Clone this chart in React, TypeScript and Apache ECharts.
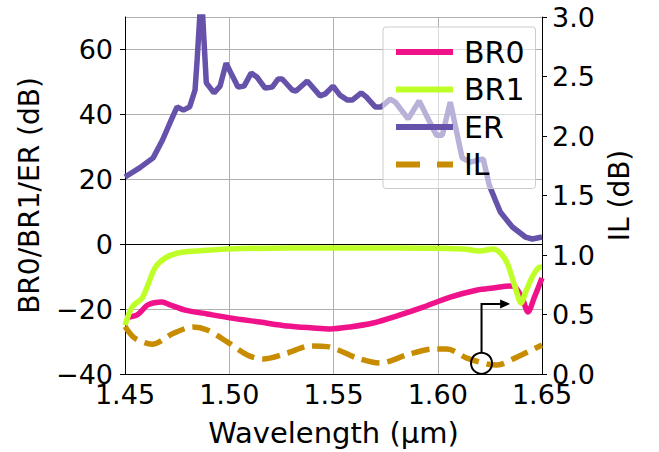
import React, { useEffect, useRef } from "react";
import * as echarts from "echarts";

// ---- data ----
const seriesNames = ["BR0", "BR1", "ER", "IL"];

const br0Wl = [1.45, 1.4558, 1.461, 1.4678, 1.4716, 1.4788, 1.4894, 1.5004, 1.5148, 1.5278, 1.5402, 1.5484, 1.558, 1.569, 1.5805, 1.593, 1.606, 1.619, 1.6265, 1.6347, 1.637, 1.6405, 1.6433, 1.6462, 1.65];
const br0Val = [-22.6, -21.8, -18.7, -17.8, -18.7, -20.3, -21.5, -22.7, -24.0, -25.2, -25.8, -26.1, -25.5, -24.3, -22.1, -19.4, -16.3, -14.1, -13.5, -12.9, -13.2, -16.6, -20.9, -16.6, -10.4];

const br1Wl = [1.45, 1.4534, 1.4582, 1.4606, 1.4644, 1.4692, 1.4754, 1.4846, 1.4994, 1.5277, 1.553, 1.5805, 1.612, 1.6203, 1.6265, 1.63, 1.6333, 1.6371, 1.64, 1.642, 1.6453, 1.6482, 1.65];
const br1Val = [-25, -19.4, -16.6, -13.2, -7.3, -4.3, -2.7, -2.1, -1.5, -1.2, -1.2, -1.2, -1.5, -2.1, -1.5, -2.7, -5.8, -13.2, -18.1, -15.0, -10.1, -7.3, -7.0];

const erWl = [1.45, 1.457, 1.4635, 1.468, 1.4726, 1.475, 1.478, 1.481, 1.4836, 1.4846, 1.4866, 1.489, 1.4927, 1.4956, 1.4985, 1.5013, 1.5042, 1.5071, 1.5105, 1.5133, 1.5172, 1.5206, 1.5234, 1.5254, 1.5302, 1.532, 1.5374, 1.5436, 1.546, 1.5498, 1.553, 1.5566, 1.559, 1.5633, 1.5657, 1.57, 1.5729, 1.5772, 1.5796, 1.5858, 1.5911, 1.5993, 1.6022, 1.606, 1.6117, 1.6156, 1.6218, 1.6247, 1.6276, 1.63, 1.6358, 1.642, 1.6454, 1.65];
const erVal = [20.7, 23.5, 26.6, 32.1, 38.9, 42.3, 41.3, 42.3, 47.5, 56.8, 78, 49.7, 46.6, 48.7, 55.8, 52.1, 48.4, 48.7, 52.7, 51.5, 48.1, 48.4, 50.9, 50.9, 47.5, 47.2, 50.3, 45.7, 46.3, 48.7, 46.0, 44.4, 44.4, 46.6, 45.4, 42.3, 42.3, 44.7, 43.8, 38.6, 44.1, 33.6, 33.6, 43.8, 26.6, 25.3, 26.3, 18.2, 13.6, 9.9, 5.3, 2.2, 1.6, 2.2];

const ilWl = [1.45, 1.4548, 1.463, 1.473, 1.4826, 1.4894, 1.499, 1.5086, 1.5162, 1.5278, 1.5388, 1.547, 1.5613, 1.5724, 1.5852, 1.5978, 1.6044, 1.614, 1.6237, 1.6285, 1.6381, 1.65];
const ilVal = [0.40, 0.30, 0.25, 0.34, 0.395, 0.37, 0.27, 0.16, 0.126, 0.176, 0.235, 0.23, 0.134, 0.092, 0.16, 0.21, 0.21, 0.134, 0.084, 0.076, 0.143, 0.244];

// annotation anchor (data coordinates)
const markWl = 1.621;
const markIL = 0.09;
const arrowLevel = -18.4;
const arrowEndWl = 1.6347;

const colors = ["#f0128a", "#beff28", "#6652aa", "#c88c00"];
const FONT = "DejaVu Sans";

const pairs = (xs: number[], ys: number[]) => xs.map((x, i) => [x, ys[i]]);

export default function App() {
  const ref = useRef<HTMLDivElement>(null);
  useEffect(() => {
    const chart = echarts.init(ref.current!, null, { renderer: "svg" });
    const option: any = {
      animation: false,
      textStyle: { fontFamily: FONT, color: "#000" },
      grid: { left: 125, right: 117, top: 17, bottom: 78 },
      legend: {
        data: [
          { name: seriesNames[0] },
          { name: seriesNames[1] },
          { name: seriesNames[2] },
          { name: seriesNames[3], lineStyle: { type: [24, 17] } },
        ],
        orient: "vertical",
        left: 383,
        top: 27,
        padding: [10, 11, 9, 10],
        itemWidth: 57,
        itemHeight: 14,
        itemGap: 7.5,
        selectedMode: false,
        backgroundColor: "rgba(255,255,255,0.55)",
        borderColor: "#cccccc",
        borderWidth: 1,
        borderRadius: 3,
        itemStyle: { opacity: 0, color: "rgba(0,0,0,0)", borderWidth: 0 },
        lineStyle: { width: 6 },
        textStyle: { fontFamily: FONT, fontSize: 30, color: "#000", lineHeight: 30, padding: [0, 0, 0, 6] },
      },
      xAxis: [
        {
          type: "value",
          min: 1.45,
          max: 1.65,
          interval: 0.05,
          name: "Wavelength (µm)",
          nameLocation: "middle",
          nameGap: 44,
          nameTextStyle: { fontFamily: FONT, fontSize: 29, color: "#000" },
          axisLine: { lineStyle: { color: "#000", width: 1 } },
          axisTick: { show: true, inside: false, length: 5, lineStyle: { color: "#000" } },
          axisLabel: { fontFamily: FONT, fontSize: 27, color: "#000", margin: 7, formatter: (v: number) => v.toFixed(2) },
          splitLine: { show: true, lineStyle: { color: "#b0b0b0", width: 1 } },
        },
        {
          type: "value",
          position: "top",
          min: 1.45,
          max: 1.65,
          axisLine: { show: true, lineStyle: { color: "#000", width: 1 } },
          axisTick: { show: false },
          axisLabel: { show: false },
          splitLine: { show: false },
        },
      ],
      yAxis: [
        {
          type: "value",
          min: -40,
          max: 70,
          interval: 20,
          name: "BR0/BR1/ER (dB)",
          nameLocation: "middle",
          nameRotate: 90,
          nameGap: 82,
          nameTextStyle: { fontFamily: FONT, fontSize: 28, color: "#000" },
          axisLine: { show: true, lineStyle: { color: "#000", width: 1 } },
          axisTick: { show: true, length: 5, lineStyle: { color: "#000" } },
          axisLabel: {
            fontFamily: FONT,
            fontSize: 27,
            color: "#000",
            margin: 12,
            showMaxLabel: false,
            formatter: (v: number) => (v < 0 ? "\u2212" + Math.abs(v) : String(v)),
          },
          splitLine: { show: true, lineStyle: { color: "#b0b0b0", width: 1 } },
        },
        {
          type: "value",
          position: "right",
          min: 0,
          max: 3,
          interval: 0.5,
          name: "IL (dB)",
          nameLocation: "middle",
          nameRotate: 90,
          nameGap: 61,
          nameTextStyle: { fontFamily: FONT, fontSize: 28, color: "#000" },
          axisLine: { show: true, lineStyle: { color: "#000", width: 1 } },
          axisTick: { show: true, length: 5, lineStyle: { color: "#000" } },
          axisLabel: { fontFamily: FONT, fontSize: 27, color: "#000", margin: 10, formatter: (v: number) => v.toFixed(1) },
          splitLine: { show: false },
        },
      ],
      series: [
        {
          name: seriesNames[0], type: "line", xAxisIndex: 0, yAxisIndex: 0, symbol: "none", smooth: 0.3,
          data: pairs(br0Wl, br0Val), lineStyle: { color: colors[0], width: 5.5 }, itemStyle: { color: colors[0] },
        },
        {
          name: seriesNames[1], type: "line", xAxisIndex: 0, yAxisIndex: 0, symbol: "none", smooth: 0.3,
          data: pairs(br1Wl, br1Val), lineStyle: { color: colors[1], width: 5.5 }, itemStyle: { color: colors[1] },
        },
        {
          name: seriesNames[2], type: "line", xAxisIndex: 0, yAxisIndex: 0, symbol: "none",
          data: pairs(erWl, erVal), lineStyle: { color: colors[2], width: 5.5 }, itemStyle: { color: colors[2] },
        },
        {
          name: seriesNames[3], type: "line", xAxisIndex: 0, yAxisIndex: 1, symbol: "none", smooth: 0.3,
          data: pairs(ilWl, ilVal), lineStyle: { color: colors[3], width: 5.5, type: [18, 8] }, itemStyle: { color: colors[3] },
        },
      ],
    };
    chart.setOption(option);

    const c = chart.convertToPixel({ xAxisIndex: 0, yAxisIndex: 1 }, [markWl, markIL]) as number[];
    const k = chart.convertToPixel({ xAxisIndex: 0, yAxisIndex: 0 }, [markWl, arrowLevel]) as number[];
    const e = chart.convertToPixel({ xAxisIndex: 0, yAxisIndex: 0 }, [arrowEndWl, arrowLevel]) as number[];
    const r = 10.5;
    chart.setOption({
      graphic: [
        { type: "circle", z: 100, shape: { cx: c[0], cy: c[1], r }, style: { fill: "none", stroke: "#000", lineWidth: 2 } },
        {
          type: "polyline", z: 100,
          shape: { points: [[c[0], c[1] - r], [k[0], k[1]], [e[0] - 8, e[1]]] },
          style: { fill: "none", stroke: "#000", lineWidth: 2 },
        },
        {
          type: "polygon", z: 100,
          shape: { points: [[e[0] - 10, e[1] - 4.5], [e[0], e[1]], [e[0] - 10, e[1] + 4.5]] },
          style: { fill: "#000" },
        },
      ],
    });
    return () => chart.dispose();
  }, []);
  return <div ref={ref} style={{ position: "fixed", left: 0, top: 0, width: 659, height: 452, background: "#fff" }} />;
}
